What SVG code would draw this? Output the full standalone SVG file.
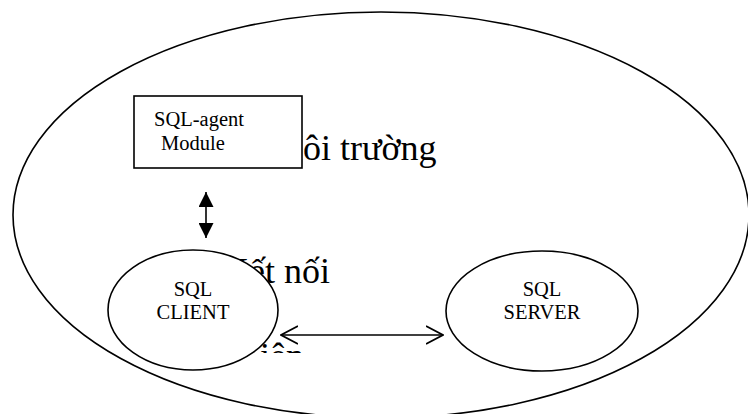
<svg xmlns="http://www.w3.org/2000/svg" width="748" height="414" viewBox="0 0 748 414">
<style>
.ln{fill:none;stroke:#000;stroke-width:1.6}
.nd{fill:#fff;stroke:#000;stroke-width:1.6}
.big{font-family:"Liberation Serif","Times New Roman",serif;font-size:36px;fill:#000}
.sm{font-family:"Liberation Serif","Times New Roman",serif;font-size:20.5px;fill:#000}
</style>
<defs>
<clipPath id="fragClip"><rect x="250" y="338" width="60" height="15"/></clipPath>
<marker id="solid" viewBox="0 0 15 15" refX="15" refY="7.5" markerWidth="15" markerHeight="15" markerUnits="userSpaceOnUse" orient="auto-start-reverse">
<path d="M0,0 L15,7.5 L0,15 Z" fill="#000"/>
</marker>
<marker id="open" viewBox="0 0 18 20" refX="17" refY="10" markerWidth="18" markerHeight="20" markerUnits="userSpaceOnUse" orient="auto-start-reverse">
<path d="M0,1 L17,10 L0,19" fill="none" stroke="#000" stroke-width="1.8"/>
</marker>
</defs>
<rect width="748" height="414" fill="#fff"/>
<g id="environment">
<ellipse class="ln" cx="381" cy="215" rx="368" ry="203"/>
<text class="big" x="271" y="160">Môi trường</text>
</g>
<g id="connection-label">
<text class="big" x="223" y="283">Kết nối</text>
</g>
<g id="fragment-label" clip-path="url(#fragClip)">
<text class="big" x="238" y="368">Liên kết</text>
</g>
<g id="sql-agent">
<rect class="nd" x="134" y="96" width="168" height="72"/>
<text class="sm" x="154" y="126">SQL-agent</text>
<text class="sm" x="161" y="150">Module</text>
</g>
<g id="sql-client">
<ellipse class="nd" cx="193" cy="310" rx="85" ry="60"/>
<text class="sm" x="193" y="296" text-anchor="middle">SQL</text>
<text class="sm" x="193" y="319" text-anchor="middle">CLIENT</text>
</g>
<g id="sql-server">
<ellipse class="nd" cx="542" cy="311" rx="96" ry="60"/>
<text class="sm" x="542" y="296" text-anchor="middle">SQL</text>
<text class="sm" x="542" y="319" text-anchor="middle">SERVER</text>
</g>
<g id="connectors">
<line class="ln" x1="206" y1="192" x2="206" y2="238" marker-start="url(#solid)" marker-end="url(#solid)"/>
<line class="ln" x1="281" y1="335" x2="443" y2="335" marker-start="url(#open)" marker-end="url(#open)"/>
</g>
</svg>
